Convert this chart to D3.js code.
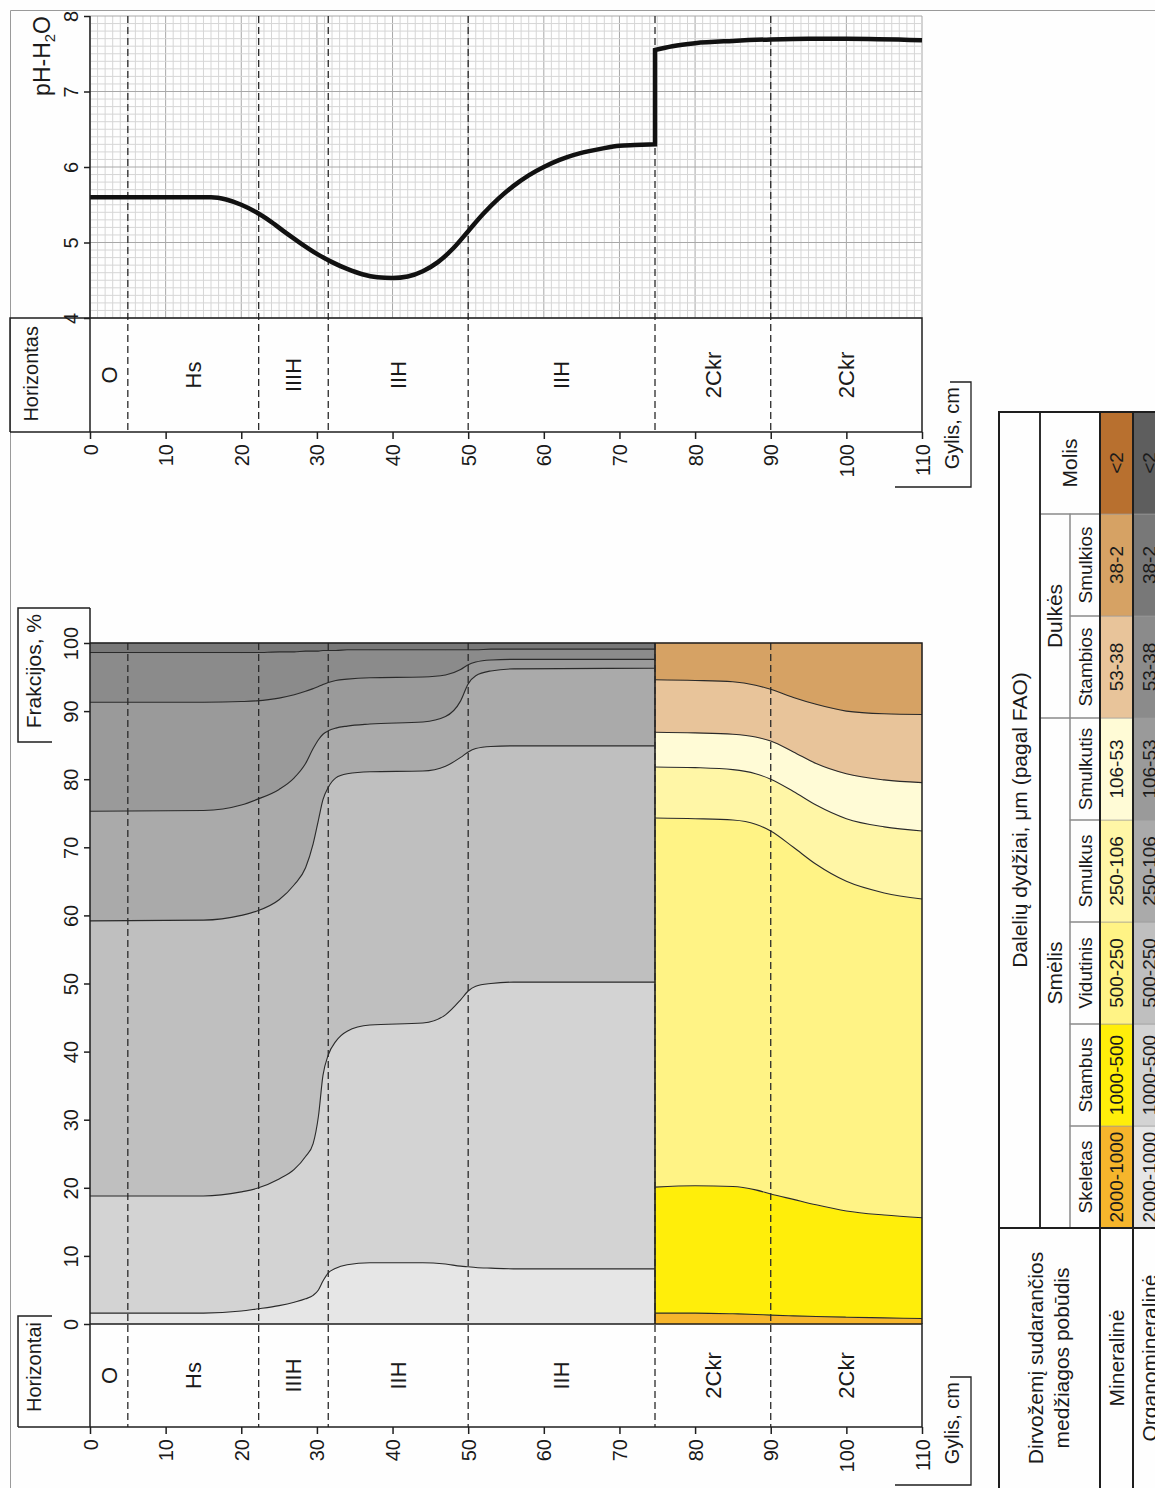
<!DOCTYPE html>
<html>
<head>
<meta charset="utf-8">
<script src="https://cdn.jsdelivr.net/npm/d3@7"></script>
<style>
body { margin:0; background:#fefefe; }
svg text { font-family: "Liberation Sans", Arial, sans-serif; fill:#1a1a1a; }
</style>
</head>
<body>
<div class="plot"></div>
<script>
// ---- data ----
// horizons, depth in cm
const horizonNames = ["O", "Hs", "IIIH", "IIH", "IIH", "2Ckr", "2Ckr"]
const horizonTops = [0, 5, 22.3, 31.5, 50, 74.7, 90]
const horizonBottoms = [5, 22.3, 31.5, 50, 74.7, 90, 110]
const depthTicks = [0, 10, 20, 30, 40, 50, 60, 70, 80, 90, 100, 110]
const pctTicks = [0, 10, 20, 30, 40, 50, 60, 70, 80, 90, 100]
const phTicks = [4, 5, 6, 7, 8]

// pH-H2O profile (two parts, jump at 74.7 cm)
const phDepthUpper = [0, 8, 16, 18, 20, 22, 24, 26, 28, 30, 32, 34, 36, 38, 40, 42, 44, 46, 48, 50, 52, 54, 56, 58, 60, 62, 64, 66, 68, 70, 72, 74.7]
const phUpper = [5.6, 5.6, 5.6, 5.57, 5.5, 5.4, 5.27, 5.12, 4.98, 4.85, 4.74, 4.65, 4.58, 4.54, 4.53, 4.55, 4.62, 4.74, 4.92, 5.15, 5.38, 5.58, 5.75, 5.89, 6.0, 6.09, 6.16, 6.21, 6.25, 6.28, 6.29, 6.3]
const phDepthLower = [74.7, 77, 80, 85, 90, 95, 100, 110]
const phLower = [7.55, 7.6, 7.64, 7.67, 7.69, 7.7, 7.7, 7.68]

// fraction categories (FAO)
const fractionNames = ["Skeletas", "Stambus", "Vidutinis", "Smulkus", "Smulkutis", "Stambios", "Smulkios", "Molis"]
const fractionSizes = ["2000-1000", "1000-500", "500-250", "250-106", "106-53", "53-38", "38-2", "<2"]
const mineralColors = ["#f6b52c", "#ffee0a", "#fff385", "#fff6a6", "#fffbd6", "#e8c49a", "#d6a264", "#b8702f"]
const organoColors = ["#e6e6e6", "#d3d3d3", "#bfbfbf", "#aaaaaa", "#9a9a9a", "#8b8b8b", "#787878", "#5e5e5e"]

// organomineral part, cumulative % (top of each fraction)
const greyDepth = [0, 15, 20, 22, 25, 27, 28.5, 29.5, 30.2, 30.8, 31.5, 32.5, 34, 37, 44, 47, 49, 50, 51, 53, 56, 74.7]
const greySkeletas = [1.6, 1.6, 1.9, 2.2, 2.7, 3.2, 3.7, 4.2, 5.0, 6.3, 7.5, 8.2, 8.7, 9.0, 9.0, 8.8, 8.5, 8.4, 8.3, 8.2, 8.1, 8.1]
const greyStambus = [18.8, 18.8, 19.4, 19.9, 21.3, 22.7, 24.6, 26.5, 30.5, 36.5, 39.5, 41.5, 43.0, 43.9, 44.2, 45.4, 47.6, 48.9, 49.6, 50.0, 50.2, 50.2]
const greyVidutinis = [59.2, 59.3, 60.0, 60.6, 62.3, 64.5, 67.0, 70.5, 74.0, 77.0, 78.8, 80.2, 80.8, 81.1, 81.2, 81.9, 83.2, 84.0, 84.5, 84.8, 84.9, 84.9]
const greySmulkus = [75.3, 75.4, 76.2, 77.0, 78.5, 80.2, 82.3, 84.5, 85.8, 86.6, 87.1, 87.5, 87.8, 88.1, 88.4, 89.2, 91.5, 94.0, 95.2, 95.9, 96.2, 96.3]
const greySmulkutis = [91.3, 91.3, 91.4, 91.5, 91.9, 92.4, 92.9, 93.3, 93.6, 93.9, 94.2, 94.5, 94.7, 94.9, 95.0, 95.3, 96.1, 96.8, 97.2, 97.5, 97.6, 97.6]
const greyStambios = [98.6, 98.6, 98.6, 98.6, 98.7, 98.7, 98.8, 98.8, 98.8, 98.9, 98.9, 98.9, 99.0, 99.0, 99.0, 99.0, 99.0, 99.0, 99.0, 99.1, 99.1, 99.1]

// mineral part, cumulative %
const colorDepth = [74.7, 80, 85, 88, 90, 93, 96, 100, 105, 110]
const minSkeletas = [1.6, 1.6, 1.5, 1.4, 1.3, 1.2, 1.1, 1.0, 0.9, 0.8]
const minStambus = [20.1, 20.3, 20.2, 19.7, 19.1, 18.3, 17.5, 16.6, 16.0, 15.6]
const minVidutinis = [74.3, 74.2, 74.0, 73.4, 72.4, 70.0, 67.5, 65.0, 63.3, 62.4]
const minSmulkus = [81.8, 81.7, 81.4, 80.8, 80.0, 78.2, 76.2, 74.2, 73.0, 72.4]
const minSmulkutis = [86.9, 86.8, 86.6, 86.2, 85.6, 84.0, 82.3, 80.8, 79.9, 79.5]
const minStambios = [94.6, 94.5, 94.3, 93.8, 93.2, 92.0, 91.0, 90.0, 89.6, 89.5]

// ---- drawing ----
const W = 1155, H = 1488
let svg = d3.select(".plot").append("svg").attr("width", W).attr("height", H)
svg.append("rect").attr("width", W).attr("height", H).attr("fill", "#fefefe")
// outer frame
svg.append("path").attr("d", "M10.5," + H + "V10.5H" + W).attr("fill", "none").attr("stroke", "#9a9a9a")

let depthX = d3.scaleLinear().domain([0, 110]).range([90, 922])
let phY = d3.scaleLinear().domain([4, 8]).range([318, 16])
let pctY = d3.scaleLinear().domain([0, 100]).range([1324, 643])

function vText(g, x, y, str, size, anchor){
  return g.append("text")
    .attr("transform", "translate(" + x + "," + y + ") rotate(-90)")
    .attr("text-anchor", anchor || "middle")
    .attr("dy", "0.35em")
    .style("font-size", size + "px")
    .text(str)
}

function dark(g, d, w){
  return g.append("path").attr("d", d).attr("fill", "none")
    .attr("stroke", "#1e1e1e").attr("stroke-width", w || 1.5)
}

// depth axis with rotated labels
function depthAxis(y, x0){
  let ax = svg.append("g")
    .attr("transform", "translate(0," + y + ")")
    .call(d3.axisBottom(depthX).tickValues(depthTicks).tickFormat(d3.format("d")).tickSize(7).tickSizeOuter(0))
  ax.select(".domain").remove()
  ax.selectAll("line").attr("stroke", "#1e1e1e").attr("stroke-width", 1.5)
  ax.selectAll("text")
    .attr("transform", "rotate(-90)")
    .attr("x", -12).attr("y", 0).attr("dy", "0.35em")
    .attr("text-anchor", "end")
    .style("font-size", "20px")
  dark(svg, "M" + x0 + "," + y + "H" + depthX(110))
}

function valueAxis(scale, ticks){
  let ax = svg.append("g")
    .attr("transform", "translate(90,0)")
    .call(d3.axisLeft(scale).tickValues(ticks).tickFormat(d3.format("d")).tickSize(6).tickSizeOuter(0))
  ax.select(".domain").remove()
  ax.selectAll("line").attr("stroke", "#1e1e1e").attr("stroke-width", 1.5)
  ax.selectAll("text")
    .attr("transform", "rotate(-90)")
    .attr("x", 0).attr("y", -12).attr("dy", 0)
    .attr("text-anchor", "middle")
    .style("font-size", "20px")
}

// horizon labels + dashed boundaries
function horizonBand(top, bottom, plotTop){
  let g = svg.append("g")
  horizonNames.forEach(function(n, i){
    let mid = (horizonTops[i] + horizonBottoms[i]) / 2
    vText(g, depthX(mid), (top + bottom) / 2, n, 22)
  })
  horizonTops.slice(1).forEach(function(d){
    g.append("line")
      .attr("x1", depthX(d)).attr("x2", depthX(d))
      .attr("y1", plotTop).attr("y2", bottom)
      .attr("stroke", "#2a2a2a").attr("stroke-width", 1.3)
      .attr("stroke-dasharray", "7,4")
  })
  dark(g, "M" + depthX(0) + "," + top + "H" + depthX(110) + "V" + bottom)
}

// ---------- pH chart ----------
let grid = svg.append("g")
depthX.ticks(110).forEach(function(d){
  grid.append("line")
    .attr("x1", depthX(d)).attr("x2", depthX(d)).attr("y1", phY(8)).attr("y2", phY(4))
    .attr("stroke", d % 10 == 0 ? "#a8a8a8" : "#d6d6d6").attr("stroke-width", 1)
})
phY.ticks(40).forEach(function(p){
  let major = Math.abs(p - Math.round(p)) < 1e-6
  grid.append("line")
    .attr("x1", depthX(0)).attr("x2", depthX(110)).attr("y1", phY(p)).attr("y2", phY(p))
    .attr("stroke", major ? "#a8a8a8" : "#d6d6d6").attr("stroke-width", 1)
})

horizonBand(318, 432, phY(8))

let phLine = d3.line().curve(d3.curveMonotoneX)
  .x(d => depthX(d[0])).y(d => phY(d[1]))
let partA = phLine(phDepthUpper.map((d, i) => [d, phUpper[i]]))
let partB = phLine(phDepthLower.map((d, i) => [d, phLower[i]]))
svg.append("path")
  .attr("d", partA + partB.replace(/^M/, "L"))
  .attr("fill", "none").attr("stroke", "#111").attr("stroke-width", 4.5)
  .attr("stroke-linejoin", "miter")

valueAxis(phY, phTicks)
dark(svg, "M90," + phY(8) + "V432")
depthAxis(432, 10)
// Horizontas box
dark(svg, "M90,318H10V432")
vText(svg, 31, 326, "Horizontas", 20, "end")
// pH-H2O label
let phLabel = svg.append("text")
  .attr("transform", "translate(42,16) rotate(-90)")
  .attr("text-anchor", "end").attr("dy", "0.35em")
  .style("font-size", "23px")
phLabel.append("tspan").text("pH-H")
phLabel.append("tspan").text("2").attr("dy", "0.3em").style("font-size", "15px")
phLabel.append("tspan").text("O").attr("dy", "-0.2em")
// Gylis label
vText(svg, 952, 387, "Gylis, cm", 20, "end")
dark(svg, "M950,382H971V487H895", 1.3)

// ---------- fractions chart ----------
function drawStack(depths, tops, colors){
  let g = svg.append("g")
  let zero = depths.map(() => 0), full = depths.map(() => 100)
  let bounds = [zero].concat(tops).concat([full])
  let area = d3.area().curve(d3.curveMonotoneX)
    .x(d => depthX(d.depth)).y0(d => pctY(d.lo)).y1(d => pctY(d.hi))
  for (let k = 0; k < bounds.length - 1; k++){
    let pts = depths.map((dep, i) => ({depth: dep, lo: bounds[k][i], hi: bounds[k + 1][i]}))
    g.append("path").attr("d", area(pts)).attr("fill", colors[k])
      .attr("stroke", colors[k]).attr("stroke-width", 0.5)
  }
  let line = d3.line().curve(d3.curveMonotoneX)
    .x(d => depthX(d[0])).y(d => pctY(d[1]))
  tops.forEach(function(t){
    g.append("path").attr("d", line(depths.map((dep, i) => [dep, t[i]])))
      .attr("fill", "none").attr("stroke", "#2a2a2a").attr("stroke-width", 1.1)
  })
}

drawStack(greyDepth, [greySkeletas, greyStambus, greyVidutinis, greySmulkus, greySmulkutis, greyStambios], organoColors)
drawStack(colorDepth, [minSkeletas, minStambus, minVidutinis, minSmulkus, minSmulkutis, minStambios], mineralColors)
dark(svg, "M" + depthX(74.7) + "," + pctY(100) + "V" + pctY(0), 1.6)

horizonBand(1324, 1427, pctY(100))
dark(svg, "M" + depthX(0) + "," + pctY(100) + "H" + depthX(110) + "V" + pctY(0))

valueAxis(pctY, pctTicks)
dark(svg, "M90,608V1427")
depthAxis(1427, 18)
// Frakcijos / Horizontai brackets
dark(svg, "M52,742H18V608H90")
vText(svg, 34, 614, "Frakcijos, %", 21, "end")
dark(svg, "M52,1316H18V1427")
vText(svg, 34, 1322, "Horizontai", 20, "end")
vText(svg, 952, 1382, "Gylis, cm", 20, "end")
dark(svg, "M950,1377H971V1485H895", 1.3)

// ---------- legend table ----------
let tb = svg.append("g")
let rowY = d3.scaleBand().domain(fractionNames).range([1228, 412])
let bh = rowY.bandwidth()
let colMin = [1100, 1133], colOrg = [1133, 1166]

fractionNames.forEach(function(n, i){
  let y = rowY(n)
  tb.append("rect").attr("x", colMin[0]).attr("y", y).attr("width", 33).attr("height", bh)
    .attr("fill", mineralColors[i]).attr("stroke", "#9a9a9a").attr("stroke-width", 0.6)
  tb.append("rect").attr("x", colOrg[0]).attr("y", y).attr("width", 33).attr("height", bh)
    .attr("fill", organoColors[i]).attr("stroke", "#9a9a9a").attr("stroke-width", 0.6)
  vText(tb, 1116.5, y + bh / 2, fractionSizes[i], 19)
  vText(tb, 1149.5, y + bh / 2, fractionSizes[i], 19)
  if (n == "Molis"){
    tb.append("rect").attr("x", 1040).attr("y", y).attr("width", 60).attr("height", bh)
      .attr("fill", "none").attr("stroke", "#8a8a8a")
    vText(tb, 1070, y + bh / 2, n, 21)
  } else {
    tb.append("rect").attr("x", 1070).attr("y", y).attr("width", 30).attr("height", bh)
      .attr("fill", "none").attr("stroke", "#8a8a8a")
    vText(tb, 1085, y + bh / 2, n, 19)
  }
})
// group headers
let smelisTop = rowY("Smulkutis"), smelisBot = rowY("Skeletas") + bh
let dulkesTop = rowY("Smulkios"), dulkesBot = rowY("Stambios") + bh
tb.append("rect").attr("x", 1040).attr("y", smelisTop).attr("width", 30).attr("height", smelisBot - smelisTop)
  .attr("fill", "none").attr("stroke", "#8a8a8a")
tb.append("rect").attr("x", 1040).attr("y", dulkesTop).attr("width", 30).attr("height", dulkesBot - dulkesTop)
  .attr("fill", "none").attr("stroke", "#8a8a8a")
vText(tb, 1055, (smelisTop + smelisBot) / 2, "Smėlis", 21)
vText(tb, 1055, (dulkesTop + dulkesBot) / 2, "Dulkės", 21)
vText(tb, 1019.5, 820, "Dalelių dydžiai, μm (pagal FAO)", 21)
// left column
vText(tb, 1036, 1358, "Dirvožemį sudarančios", 21)
vText(tb, 1062, 1358, "medžiagos pobūdis", 21)
vText(tb, 1116.5, 1358, "Mineralinė", 21)
vText(tb, 1149.5, 1358, "Organomineralinė", 21)
// heavy lines
dark(tb, "M999," + H + "V412H" + W, 2)
dark(tb, "M1040,412V1228", 1.8)
dark(tb, "M1100,412V" + H, 2)
dark(tb, "M1133,412V" + H, 2)
dark(tb, "M999,1228H" + W, 2)
</script>
</body>
</html>
